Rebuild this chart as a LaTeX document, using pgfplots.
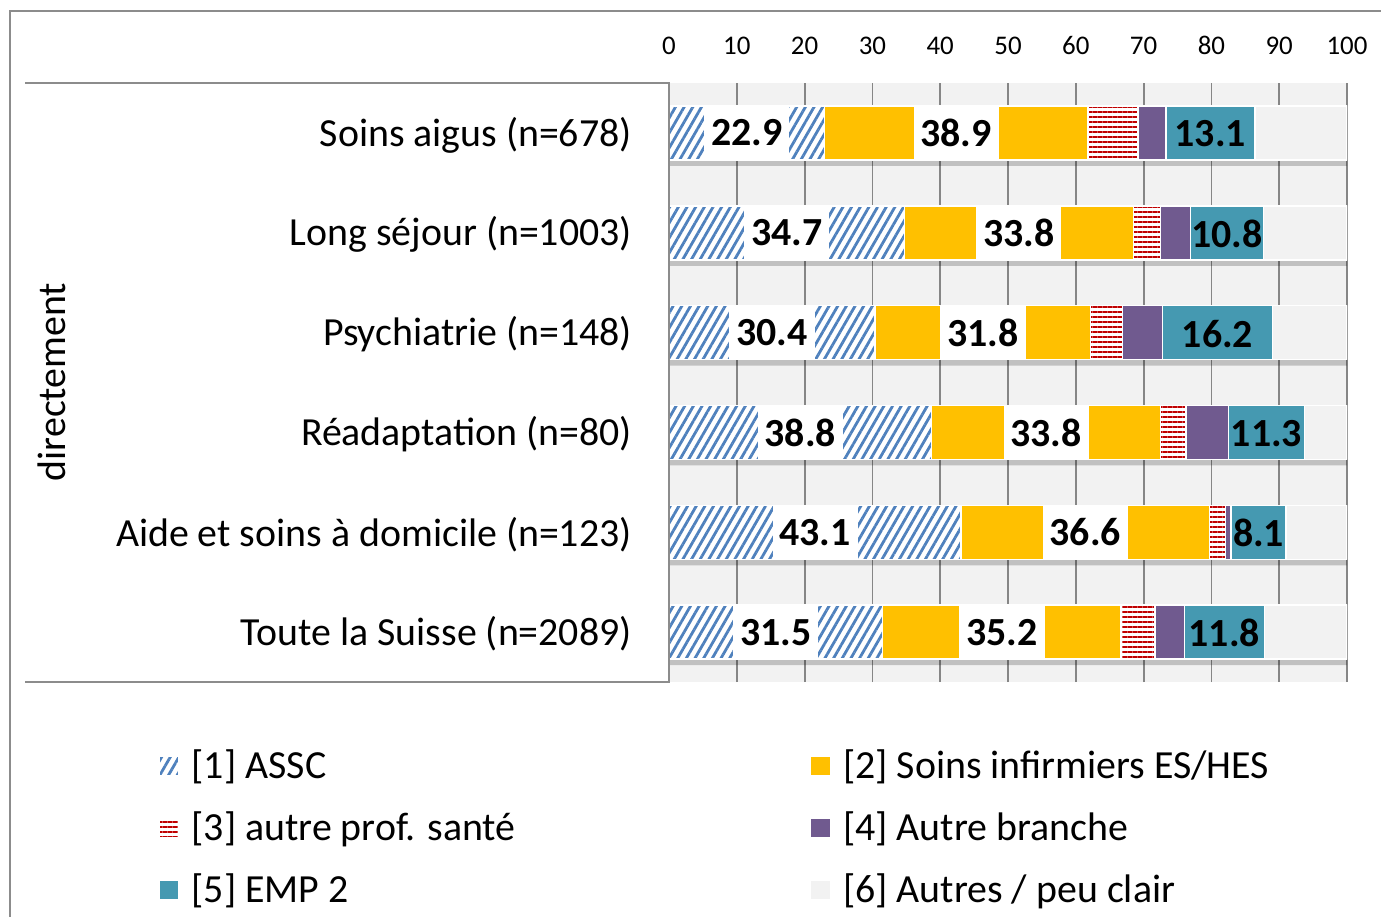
\documentclass[border=0pt]{standalone}
\usepackage{fontspec}
\setmainfont{Carlito}
\usepackage{pgfplots}
\pgfplotsset{compat=1.18}
\usetikzlibrary{patterns.meta}
\definecolor{assc}{HTML}{4F81BD}
\definecolor{soins}{HTML}{FFC000}
\definecolor{autre}{HTML}{C00000}
\definecolor{branche}{HTML}{705A8F}
\definecolor{emp}{HTML}{4599B1}
\definecolor{rest}{HTML}{F2F2F2}
\definecolor{gridc}{HTML}{868686}
\definecolor{framec}{HTML}{8C8C8C}
\tikzset{
  lab/.style={fill=white, inner xsep=7bp, inner ysep=0pt, minimum height=53.5bp, text depth=0pt, font=\bfseries\fontsize{40}{48}\selectfont},
  labe/.style={inner sep=0pt, font=\bfseries\fontsize{40}{48}\selectfont, yshift=-1bp},
}
\pgfplotsset{common/.style={
  at={(669bp,-682bp)}, anchor=south west,
  scale only axis, width=678bp, height=599bp,
  xmin=0, xmax=100, ymin=-0.5, ymax=5.5,
  major tick length=0pt,
  axis line style={draw=none},
}}
\begin{document}
\begin{tikzpicture}
\useasboundingbox (0,0) rectangle (1381bp,-917bp);
\fill[white] (0,0) rectangle (1381bp,-917bp);

\begin{axis}[
  common,
  xtick={0,10,...,100}, xticklabels={}, ytick=\empty,
  xmajorgrids, grid style={gridc, line width=1.8bp},
  axis background/.style={fill=rest},
]
\addplot[xbar, bar width=54bp, bar shift=-6bp, draw=none, fill=black, fill opacity=0.2]
  coordinates {(100,0) (100,1) (100,2) (100,3) (100,4) (100,5)};
\end{axis}

\begin{axis}[
  common,
  xbar stacked, bar width=54bp,
  xtick={0,10,...,100}, xticklabel pos=upper,
  ytick={0,1,2,3,4,5},
  yticklabels={{Toute la Suisse (n=2089)},{Aide et soins à domicile (n=123)},{Réadaptation (n=80)},{Psychiatrie (n=148)},{Long séjour (n=1003)},{Soins aigus (n=678)}},
  /pgf/number format/assume math mode=true,
  xticklabel style={font=\fontsize{27}{32}\selectfont, inner sep=0pt, yshift=28bp},
  yticklabel style={font=\fontsize{40}{48}\selectfont, inner sep=0pt, xshift=-37bp, yshift=-2bp},
  every axis plot/.append style={draw=white, line width=1.5bp},
  legend columns=2, legend cell align=left,
  legend image code/.code={\draw[#1] (0bp,-10bp) rectangle (20bp,10bp);},
  legend style={at={(axis description cs:-0.7537,-0.1060)}, anchor=north west, draw=none, fill=none, inner sep=0pt, row sep=21bp, font=\fontsize{40}{48}\selectfont, nodes={inner xsep=12bp, inner ysep=0pt, text height=33bp, text depth=8bp}},
]
\addplot[fill=white, postaction={pattern={Lines[angle=60,distance=7.5bp,line width=2.8bp]},pattern color=assc}]
  coordinates {(31.5,0) (43.1,1) (38.75,2) (30.4,3) (34.7,4) (22.9,5)};
\addlegendentry{\makebox[606bp][l]{[1] ASSC}}
\addplot[fill=soins]
  coordinates {(35.2,0) (36.6,1) (33.75,2) (31.8,3) (33.8,4) (38.9,5)};
\addlegendentry{[2] Soins infirmiers ES/HES}
\addplot[fill=white, postaction={pattern={Lines[angle=0,distance=5bp,line width=2.2bp]},pattern color=autre}]
  coordinates {(5.0,0) (2.4,1) (3.75,2) (4.7,3) (4.0,4) (7.4,5)};
\addlegendentry{\makebox[606bp][l]{[3] autre prof. santé}}
\addplot[fill=branche]
  coordinates {(4.3,0) (0.8,1) (6.25,2) (5.9,3) (4.4,4) (4.1,5)};
\addlegendentry{[4] Autre branche}
\addplot[fill=emp]
  coordinates {(11.8,0) (8.1,1) (11.25,2) (16.2,3) (10.8,4) (13.1,5)};
\addlegendentry{\makebox[606bp][l]{[5] EMP 2}}
\addplot[fill=rest]
  coordinates {(12.2,0) (9.0,1) (6.25,2) (11.0,3) (12.3,4) (13.6,5)};
\addlegendentry{[6] Autres / peu clair}
\end{axis}

\begin{axis}[
  common, hide axis, clip=false,
]
% Soins aigus
\node[lab] at (axis cs:11.45,5) {22.9};
\node[lab] at (axis cs:42.35,5) {38.9};
\node[labe] at (axis cs:79.85,5) {13.1};
% Long sejour
\node[lab] at (axis cs:17.35,4) {34.7};
\node[lab] at (axis cs:51.6,4) {33.8};
\node[labe] at (axis cs:82.3,4) {10.8};
% Psychiatrie
\node[lab] at (axis cs:15.2,3) {30.4};
\node[lab] at (axis cs:46.3,3) {31.8};
\node[labe] at (axis cs:80.9,3) {16.2};
% Readaptation
\node[lab] at (axis cs:19.375,2) {38.8};
\node[lab] at (axis cs:55.625,2) {33.8};
\node[labe] at (axis cs:88.125,2) {11.3};
% Aide et soins
\node[lab] at (axis cs:21.55,1) {43.1};
\node[lab] at (axis cs:61.4,1) {36.6};
\node[labe] at (axis cs:86.95,1) {8.1};
% Toute la Suisse
\node[lab] at (axis cs:15.75,0) {31.5};
\node[lab] at (axis cs:49.1,0) {35.2};
\node[labe] at (axis cs:81.9,0) {11.8};
\end{axis}

\draw[framec, line width=1.5bp] (10bp,-917bp) -- (10bp,-11bp) -- (1381bp,-11bp);
\draw[framec, line width=1.5bp] (25bp,-83bp) -- (669bp,-83bp) -- (669bp,-682bp) -- (25bp,-682bp);
\node[rotate=90, font=\fontsize{40}{48}\selectfont] at (52bp,-382bp) {directement};
\end{tikzpicture}
\end{document}
